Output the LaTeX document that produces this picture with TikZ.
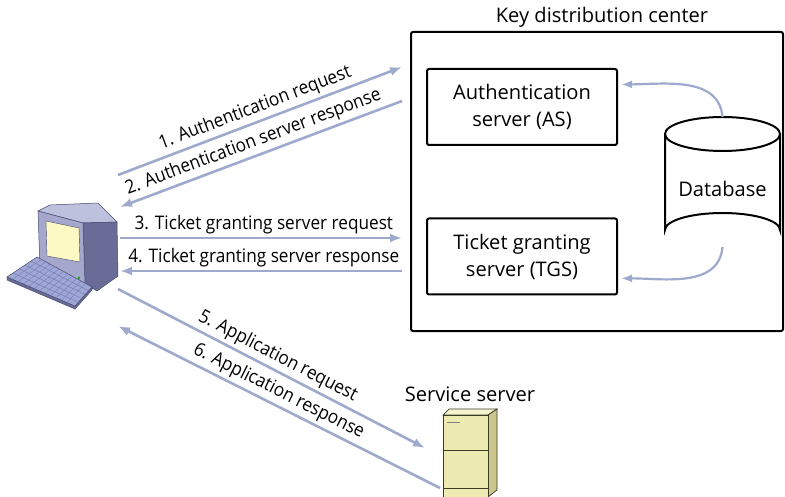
\documentclass[tikz,border=0pt]{standalone}
\usepackage{fontspec}
\setmainfont{Open Sans}
\newfontfamily\narrowsans{Open Sans}[FakeStretch=0.92]
\usetikzlibrary{arrows.meta, positioning, calc}

\definecolor{flowblue}{RGB}{158,170,205}
\definecolor{crtfront}{RGB}{165,168,204}
\definecolor{crttop}{RGB}{190,193,222}
\definecolor{crtside}{RGB}{104,108,150}
\definecolor{crtline}{RGB}{70,74,110}
\definecolor{crtscreen}{RGB}{253,249,196}
\definecolor{kbface}{RGB}{160,166,214}
\definecolor{kbkey}{RGB}{120,126,180}
\definecolor{srvfront}{RGB}{238,235,178}
\definecolor{srvtop}{RGB}{246,244,206}
\definecolor{srvside}{RGB}{202,198,140}
\definecolor{srvline}{RGB}{60,60,40}

% box captions and arrow labels
\newcommand\boxfont{\fontsize{20.1}{27}\selectfont}
\newcommand\lbl{\narrowsans\fontsize{18.7}{25}\selectfont}

\tikzset{
  server/.style={
    rectangle, draw=black, line width=2pt, rounded corners=2pt,
    minimum width=190, minimum height=76,
    align=center, font=\boxfont, inner sep=2pt,
  },
  flow/.style={
    -{Latex[length=12pt,width=9pt]}, line width=2.6pt, draw=flowblue,
  },
  msg/.style={
    font=\lbl, sloped, above, inner sep=3pt,
  },
  dblink/.style={
    -{Latex[length=11pt,width=8pt]}, line width=2.2pt, draw=flowblue,
  },
}

\begin{document}
\begin{tikzpicture}[x=1pt, y=-1pt]

  \useasboundingbox (0,0) rectangle (785,497);

  % key distribution center
  \draw[line width=2pt, rounded corners=2pt] (411,32) rectangle (783,331);
  \node[font=\boxfont] (kdc) at (602,17) {Key distribution center};

  \node[server] (as)  at (522,107) {Authentication\\server (AS)};
  \node[server] (tgs) at (522,256.5) {Ticket granting\\server (TGS)};

  % database can
  \draw[line width=2pt, fill=white]
    (665,134) -- (665,230) arc[start angle=180, end angle=360, x radius=57.5, y radius=17]
    -- (780,134) arc[start angle=0, end angle=-180, x radius=57.5, y radius=17] -- cycle;
  \draw[line width=2pt] (665,134) arc[start angle=180, end angle=0, x radius=57.5, y radius=17];
  \node[font=\boxfont] (db) at (722.5,189) {Database};
  \coordinate (dbtop) at (722.5,117);
  \coordinate (dbbot) at (722.5,247);

  \draw[dblink] (dbtop) to[out=95, in=0] ($(as.north east)!0.21!(as.south east)+(3,0)$);
  \draw[dblink] (dbbot) to[out=-95, in=0] ($(tgs.north east)!0.78!(tgs.south east)+(3,0)$);

  % client workstation
  \node[minimum width=120, minimum height=115] (pc) at (63,252) {};
  \filldraw[fill=crttop, draw=crtline, line width=0.5pt]
    (38,211) -- (50,205) -- (98,203) -- (117,222) -- (83,223) -- cycle;
  \filldraw[fill=crtside, draw=crtline, line width=0.5pt]
    (83,223) -- (117,222) -- (118,276) -- (97,291) -- (85,284) -- cycle;
  \filldraw[fill=crtfront, draw=crtline, line width=0.5pt]
    (38,211) -- (83,223) -- (85,284) -- (40,269) -- cycle;
  \filldraw[fill=crtscreen, draw=crtline, line width=0.4pt]
    (46,221) -- (79,228) -- (80,262) -- (47,256) -- cycle;
  \fill[green!70!black] (79,278) circle[radius=1.3];
  % keyboard
  \filldraw[fill=crtside, draw=crtline, line width=0.5pt]
    (7,277) -- (75,306) -- (92,287) -- (92,290) -- (75,309) -- (7,280) -- cycle;
  \filldraw[fill=kbface, draw=crtline, line width=0.5pt]
    (7,277) -- (37,257) -- (92,287) -- (75,306) -- cycle;
  \foreach \t in {0.2,0.4,0.6,0.8}
    \draw[kbkey, line width=0.5pt]
      ($(7,277)!\t!(37,257)$) -- ($(75,306)!\t!(92,287)$);
  \foreach \t in {0.08,0.16,...,0.95}
    \draw[kbkey, line width=0.4pt]
      ($(7,277)!\t!(75,306)$) -- ($(37,257)!\t!(92,287)$);

  % service server box
  \node[minimum width=54, minimum height=88] (srv) at (470,453) {};
  \filldraw[fill=srvtop, draw=srvline, line width=0.7pt]
    (443,415) -- (449,409) -- (497,409) -- (488,415) -- cycle;
  \filldraw[fill=srvside, draw=srvline, line width=0.7pt]
    (488,415) -- (497,409) -- (497,490) -- (488,497) -- cycle;
  \filldraw[fill=srvfront, draw=srvline, line width=0.7pt]
    (443,415) rectangle (488,498);
  \draw[srvline, line width=0.7pt] (443,450) -- (488,450);
  \draw[srvline, line width=0.7pt] (443,488) -- (488,488);
  \draw[gray, line width=0.8pt] (447,422) -- (460,422);
  \node[font=\boxfont, above=4pt of srv.north] (srvname) {Service server};

  % message ends
  \coordinate (pc1) at (118,175);  \coordinate (k1) at (402,67);
  \coordinate (pc2) at (120,207);  \coordinate (k2) at (402,101);
  \coordinate (pc3) at (120,238);  \coordinate (k3) at (402,238);
  \coordinate (pc4) at (120,271);  \coordinate (k4) at (402,271);
  \coordinate (pc5) at (118,289);  \coordinate (s5) at (425,448);
  \coordinate (pc6) at (118,326);  \coordinate (s6) at (440,488);

  \draw[flow] (pc1) -- node[msg, pos=0.5] {1. Authentication request} (k1);
  \draw[flow] (k2) -- node[msg, pos=0.51] {2. Authentication server response} (pc2);
  \draw[flow] (pc3) -- node[msg, pos=0.51] {3. Ticket granting server request} (k3);
  \draw[flow] (k4) -- node[msg, pos=0.49] {4. Ticket granting server response} (pc4);
  \draw[flow] (pc5) -- node[msg, pos=0.5] {5. Application request} (s5);
  \draw[flow] (s6) -- node[msg, pos=0.52] {6. Application response} (pc6);

\end{tikzpicture}
\end{document}
